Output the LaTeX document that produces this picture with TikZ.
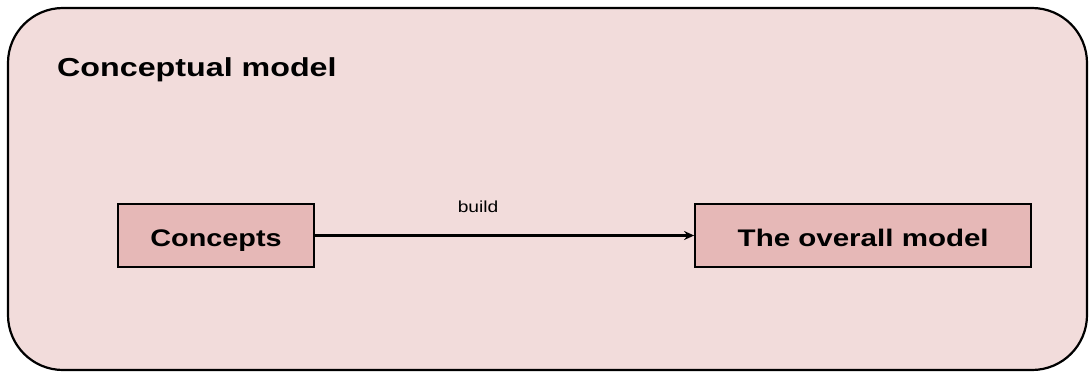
\documentclass[tikz,border=0pt]{standalone}
\usepackage{fontspec}
\setmainfont{Liberation Sans}
\usetikzlibrary{shapes,arrows,arrows.meta,positioning,fit,backgrounds}

\definecolor{modelbg}{HTML}{F2DCDB}
\definecolor{itemfill}{HTML}{E6B8B7}
\newcommand{\widetext}[2][1.2]{\scalebox{#1}[1]{#2}}

\begin{document}
\begin{tikzpicture}[x=1pt,y=-1pt,node distance=379pt]
    \tikzstyle{frame} = [rectangle, rounded corners=55pt, draw, line width=2.2pt, fill=modelbg, minimum width=1079pt, minimum height=362pt]
    \tikzstyle{item} = [rectangle, draw, line width=2.2pt, fill=itemfill, minimum height=63pt, text height=24pt, text depth=3pt, font=\bfseries\fontsize{24}{28}\selectfont]
    \tikzstyle{flow} = [line width=2.2pt,-{Stealth[length=10pt,width=9pt]}]

    \useasboundingbox (0,0) rectangle (1089,372);
    \node [frame] (model) at (547.5,189) {};
    \node [anchor=base west, inner sep=0pt, font=\bfseries\fontsize{26}{30}\selectfont] (title) at (57,76) {\widetext[1.24]{Conceptual model}};

    \node [item, minimum width=196pt] (concepts) at (216,235.5) {\widetext{Concepts}};
    \node [item, minimum width=336pt, right=of concepts] (overall) {\widetext[1.23]{The overall model}};

    \draw [flow] (concepts) -- (overall) node[pos=0.43, above=18pt, font=\fontsize{16}{19}\selectfont] {\widetext{build}};
\end{tikzpicture}
\end{document}
